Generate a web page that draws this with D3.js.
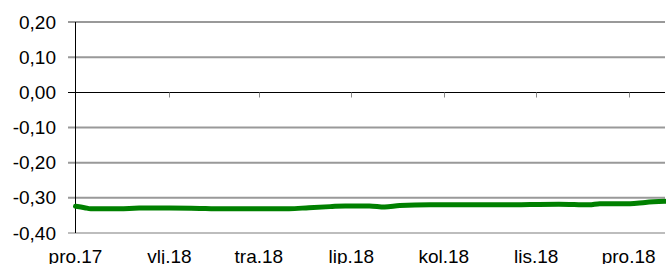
<!DOCTYPE html>
<html><head><meta charset="utf-8">
<script src="https://cdn.jsdelivr.net/npm/d3@7"></script>
<style>body{margin:0;background:#fff}svg{display:block}text{font-family:Arial,"Liberation Sans",sans-serif;fill:#000}</style>
</head><body><svg id="c" width="666" height="264"></svg>
<script>
const dates = ["2017-12-01","2017-12-07","2017-12-11","2017-12-30","2018-01-12","2018-02-01","2018-02-21","2018-03-03","2018-03-19","2018-04-08","2018-04-21","2018-05-04","2018-05-18","2018-05-28","2018-06-13","2018-06-23","2018-07-03","2018-07-23","2018-08-18","2018-09-10","2018-09-27","2018-10-16","2018-11-05","2018-11-12","2018-12-02","2018-12-12","2018-12-25"];
const values = [-0.324,-0.328,-0.331,-0.331,-0.329,-0.329,-0.330,-0.331,-0.331,-0.331,-0.331,-0.328,-0.325,-0.323,-0.323,-0.326,-0.322,-0.320,-0.320,-0.320,-0.319,-0.318,-0.320,-0.317,-0.317,-0.313,-0.310];
const yTicks = [0.20,0.10,0.00,-0.10,-0.20,-0.30,-0.40];
const xTickDates = ["2017-12-01","2018-02-01","2018-04-01","2018-06-01","2018-08-01","2018-10-01","2018-12-01"];
const xTickLabels = ["pro.17","vlj.18","tra.18","lip.18","kol.18","lis.18","pro.18"];

(function(){
const parse = d3.timeParse("%Y-%m-%d");
const svg = d3.select("#c");
const mL = 75.5, mR = 665, mT = 22, mB = 233;
const x = d3.scaleTime().domain([parse("2017-12-01"), parse("2018-12-25")]).range([mL, mR]);
const y = d3.scaleLinear().domain([-0.40, 0.20]).range([mB, mT]);
const fmt = v => d3.format(".2f")(v).replace(".", ",").replace("−","-");

svg.append("g").selectAll("line").data(yTicks.filter(v => v !== 0)).join("line")
  .attr("x1", 68).attr("x2", mR)
  .attr("y1", d => y(d)).attr("y2", d => y(d))
  .attr("stroke", d => d === -0.40 ? "#bdbdbd" : "#999").attr("stroke-width", 2);

svg.append("g").selectAll("text").data(yTicks).join("text")
  .attr("x", 56).attr("y", d => y(d)).attr("dy", "0.35em")
  .attr("text-anchor", "end").style("font-size", "19px")
  .text(d => fmt(d));

const y0 = Math.round(y(0)) + 0.5;
svg.append("line").attr("x1", 68).attr("x2", mR).attr("y1", y0).attr("y2", y0).attr("stroke", "#000").attr("stroke-width", 1);
svg.append("g").selectAll("line").data(xTickDates.slice(1)).join("line")
  .attr("x1", d => Math.round(x(parse(d))) + 0.5).attr("x2", d => Math.round(x(parse(d))) + 0.5)
  .attr("y1", y0).attr("y2", y0 + 5).attr("stroke", "#888").attr("stroke-width", 1);

svg.append("line").attr("x1", mL).attr("x2", mL).attr("y1", mT).attr("y2", mB).attr("stroke", "#000").attr("stroke-width", 1);

svg.append("g").selectAll("text").data(xTickDates).join("text")
  .attr("x", d => x(parse(d))).attr("y", 263)
  .attr("text-anchor", "middle").style("font-size", "19px")
  .text((d, i) => xTickLabels[i]);

const pts = dates.map((d, i) => ({d: parse(d), v: values[i]}));
svg.append("path").datum(pts)
  .attr("d", d3.line().x(p => x(p.d)).y(p => y(p.v)).curve(d3.curveMonotoneX))
  .attr("fill", "none").attr("stroke", "#008000").attr("stroke-width", 5)
  .attr("stroke-linejoin", "round").attr("stroke-linecap", "round");
})();
</script></body></html>
